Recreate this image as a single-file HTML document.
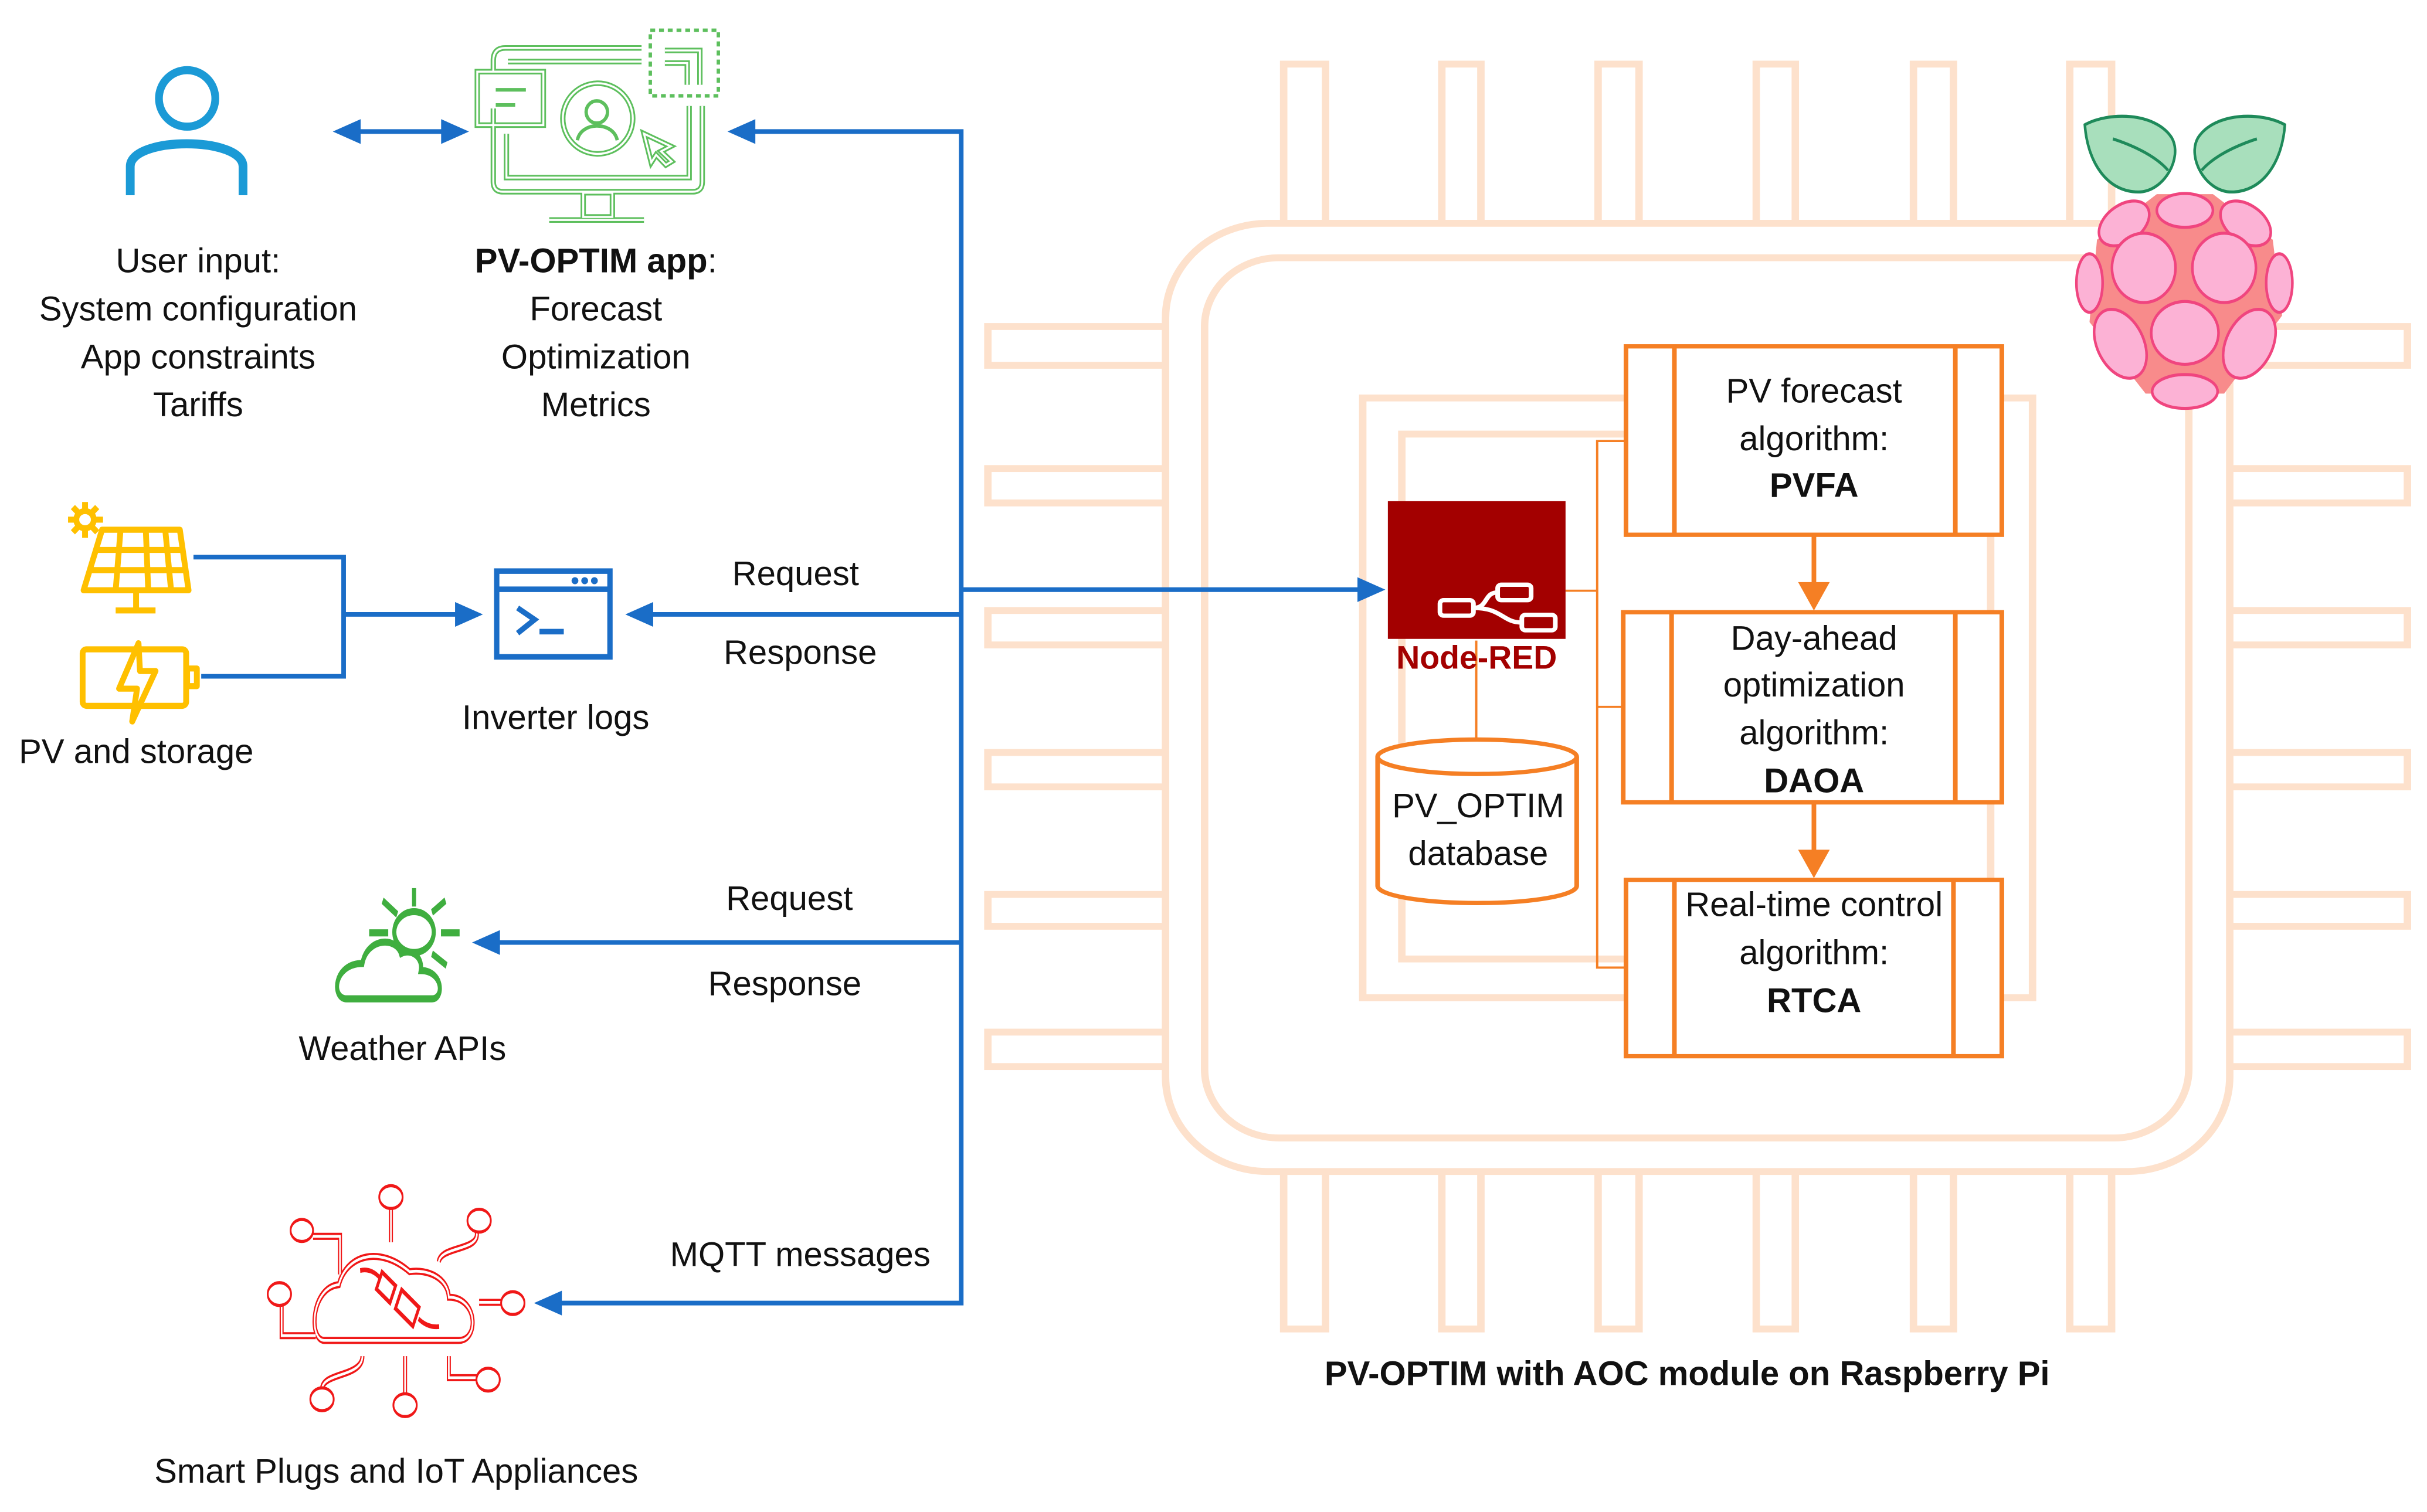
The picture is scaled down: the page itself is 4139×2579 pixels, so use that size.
<!DOCTYPE html>
<html><head><meta charset="utf-8"><style>
html,body{margin:0;padding:0;background:#fff;}
svg{display:block;}
text{font-family:"Liberation Sans",Arial,sans-serif;fill:#111;}
</style></head><body>
<svg width="4139" height="2579" viewBox="0 0 1568 977" xmlns="http://www.w3.org/2000/svg">
<rect x="0" y="0" width="1568" height="977" fill="#fff"/>

<!-- CHIP (zoom1 coords) -->
<g transform="translate(625,30.3) scale(0.601,0.556)" fill="#fff" stroke="#fde1cc" stroke-width="8">
  <g>
    <rect x="340" y="20" width="45" height="200"/><rect x="510" y="20" width="42" height="200"/>
    <rect x="678" y="20" width="44" height="200"/><rect x="848" y="20" width="42" height="200"/>
    <rect x="1017" y="20" width="43" height="200"/><rect x="1185" y="20" width="45" height="200"/>
    <rect x="340" y="1290" width="45" height="200"/><rect x="510" y="1290" width="42" height="200"/>
    <rect x="678" y="1290" width="44" height="200"/><rect x="848" y="1290" width="42" height="200"/>
    <rect x="1017" y="1290" width="43" height="200"/><rect x="1185" y="1290" width="45" height="200"/>
    <rect x="22" y="325" width="210" height="45"/><rect x="22" y="490" width="210" height="40"/>
    <rect x="22" y="655" width="210" height="40"/><rect x="22" y="820" width="210" height="40"/>
    <rect x="22" y="985" width="210" height="37"/><rect x="22" y="1145" width="210" height="40"/>
    <rect x="1340" y="325" width="208" height="45"/><rect x="1340" y="490" width="208" height="40"/>
    <rect x="1340" y="655" width="208" height="40"/><rect x="1340" y="820" width="208" height="40"/>
    <rect x="1340" y="985" width="208" height="37"/><rect x="1340" y="1145" width="208" height="40"/>
  </g>
  <rect x="213" y="205" width="1144" height="1102" rx="110"/>
  <rect x="255" y="245" width="1058" height="1023" rx="80"/>
  <rect x="425" y="408" width="720" height="697" fill="none"/>
  <rect x="467" y="450" width="633" height="610" fill="none"/>
</g>

<!-- Raspberry (zoom4 coords) -->
<g transform="translate(1325.8,56.8) scale(0.1208,0.1401)">
  <g fill="#a8dfbc" stroke="#1e8a5a" stroke-width="14">
    <path d="M175,170 C300,110 550,110 640,230 C700,320 600,480 460,480 C300,480 190,350 175,170 Z"/>
    <path d="M1245,170 C1120,110 870,110 780,230 C720,320 820,480 960,480 C1120,480 1230,350 1245,170 Z"/>
    <path d="M325,235 C450,270 560,320 620,380" fill="none"/>
    <path d="M1095,235 C970,270 860,320 800,380" fill="none"/>
  </g>
  <path d="M240,700 L560,490 L860,490 L1180,700 L1230,1050 L920,1410 L500,1410 L200,1080 Z" fill="#f88b8b"/>
  <g fill="#fcb2d5" stroke="#f0457f" stroke-width="14">
    <ellipse cx="710" cy="565" rx="150" ry="78"/>
    <ellipse cx="385" cy="625" rx="145" ry="88" transform="rotate(-28 385 625)"/>
    <ellipse cx="1035" cy="625" rx="145" ry="88" transform="rotate(28 1035 625)"/>
    <ellipse cx="200" cy="900" rx="70" ry="135"/>
    <ellipse cx="1215" cy="900" rx="70" ry="135"/>
    <ellipse cx="490" cy="830" rx="170" ry="160"/>
    <ellipse cx="920" cy="830" rx="170" ry="160"/>
    <ellipse cx="710" cy="1130" rx="180" ry="145"/>
    <ellipse cx="365" cy="1180" rx="120" ry="175" transform="rotate(-35 365 1180)"/>
    <ellipse cx="1055" cy="1180" rx="120" ry="175" transform="rotate(35 1055 1180)"/>
    <ellipse cx="710" cy="1400" rx="175" ry="78"/>
  </g>
</g>

<!-- orange blocks (zoom1 coords) -->
<g transform="translate(625,30.3) scale(0.601,0.556)" fill="none" stroke="#f57f24">
  <g stroke-width="5">
    <rect x="708" y="348" width="404" height="219" fill="#fff"/>
    <line x1="760" y1="348" x2="760" y2="567"/><line x1="1062" y1="348" x2="1062" y2="567"/>
    <rect x="705" y="657" width="407" height="221" fill="#fff"/>
    <line x1="757" y1="657" x2="757" y2="878"/><line x1="1062" y1="657" x2="1062" y2="878"/>
    <rect x="708" y="968" width="404" height="205" fill="#fff"/>
    <line x1="760" y1="968" x2="760" y2="1173"/><line x1="1060" y1="968" x2="1060" y2="1173"/>
    <line x1="910" y1="567" x2="910" y2="625"/><line x1="910" y1="878" x2="910" y2="935"/>
  </g>
  <polygon points="893,622 927,622 910,655" fill="#f57f24" stroke="none"/>
  <polygon points="893,933 927,933 910,966" fill="#f57f24" stroke="none"/>
  <g stroke-width="2.5">
    <path d="M708,458 H677 V1070 H708 M677,767 H705 M643,632 H677 M547,690 V805"/>
  </g>
  <path d="M441,825 V975 A107,20 0 0 0 655,975 V825" fill="#fff" stroke-width="5"/>
  <ellipse cx="548" cy="825" rx="107" ry="20" fill="#fff" stroke-width="5"/>
  <rect x="452" y="528" width="191" height="160" fill="#a30000" stroke="none"/>
  <g stroke="#fff" stroke-width="5">
    <rect x="508" y="643" width="36" height="18" rx="4"/>
    <rect x="570" y="625" width="36" height="18" rx="4"/>
    <rect x="596" y="660" width="36" height="18" rx="4"/>
    <path d="M544,652 C560,652 555,634 570,634 M544,652 C575,652 575,669 596,669"/>
  </g>
</g>

<!-- Blue connectors -->
<g stroke="#1a6dc7" stroke-width="3" fill="none">
  <path d="M482,85 H621 V842 H357"/>
  <path d="M621,381 H883"/>
  <path d="M621,397 H416"/>
  <path d="M621,609 H317"/>
  <path d="M227,85 H291"/>
  <path d="M125,360 H222 V437 H130 M222,397 H300"/>
</g>
<g fill="#1a6dc7">
  <polygon points="470,85 488,77 488,93"/>
  <polygon points="895,381 877,373 877,389"/>
  <polygon points="404,397 422,389 422,405"/>
  <polygon points="305,609 323,601 323,617"/>
  <polygon points="345,842 363,834 363,850"/>
  <polygon points="215,85 233,77 233,93"/>
  <polygon points="303,85 285,77 285,93"/>
  <polygon points="312,397 294,389 294,405"/>
</g>

<!-- zoom2 icons -->
<g transform="scale(0.314,0.326)" fill="none">
  <ellipse cx="385" cy="195" rx="58" ry="56" stroke="#1b9ad6" stroke-width="16"/>
  <path d="M268,387 V330 C268,270 500,270 500,330 V387" stroke="#1b9ad6" stroke-width="18"/>
  <g stroke="#5dbf5d" stroke-width="11">
    <path d="M1015,215 V360 Q1015,380 1035,380 H1425 Q1445,380 1445,360 V210"/>
    <path d="M1015,140 V120 Q1015,95 1040,95 H1320"/>
    <path d="M1042,265 V352 H1418 V210"/>
    <path d="M1045,122 H1320"/>
    <rect x="982" y="142" width="136" height="106"/>
    <ellipse cx="1230" cy="235" rx="72" ry="70"/>
    <path d="M1368,100 H1440 V168 M1368,125 H1414 V168"/>
    <rect x="1200" y="382" width="60" height="48"/>
    <path d="M1130,436 H1325"/>
    <path d="M1325,265 L1380,290 L1360,300 L1382,320 L1370,327 L1350,307 L1340,322 Z"/>
  </g>
  <g stroke="#fff" stroke-width="4">
    <path d="M1015,215 V360 Q1015,380 1035,380 H1425 Q1445,380 1445,360 V210"/>
    <path d="M1015,140 V120 Q1015,95 1040,95 H1320"/>
    <path d="M1042,265 V352 H1418 V210"/>
    <path d="M1045,122 H1320"/>
    <rect x="982" y="142" width="136" height="106"/>
    <ellipse cx="1230" cy="235" rx="72" ry="70"/>
    <path d="M1368,100 H1440 V168 M1368,125 H1414 V168"/>
    <rect x="1200" y="382" width="60" height="48"/>
    <path d="M1130,436 H1325"/>
    <path d="M1325,265 L1380,290 L1360,300 L1382,320 L1370,327 L1350,307 L1340,322 Z"/>
  </g>
  <g stroke="#5dbf5d" stroke-width="7">
    <path d="M1020,178 H1082 M1020,208 H1060"/>
    <ellipse cx="1228" cy="222" rx="22" ry="22"/>
    <path d="M1188,278 C1195,240 1262,240 1270,278"/>
    <rect x="1338" y="60" width="140" height="130" stroke-dasharray="10 8"/>
  </g>
  <g stroke="#ffc000" stroke-width="12" stroke-linejoin="round">
    <ellipse cx="175" cy="1030" rx="18" ry="17"/>
    <path d="M175,995 V1008 M175,1052 V1066 M140,1030 H153 M197,1030 H212 M150,1005 L160,1015 M190,1045 L200,1055 M200,1005 L190,1015 M150,1055 L160,1045"/>
    <polygon points="210,1050 370,1050 388,1170 172,1170"/>
    <path d="M196,1090 H378 M184,1130 H383 M248,1050 L238,1170 M300,1050 L305,1170 M340,1050 L352,1170"/>
    <path d="M280,1170 V1208 M238,1210 H320"/>
    <rect x="170" y="1287" width="213" height="112" rx="8"/>
    <rect x="385" y="1325" width="20" height="35"/>
    <polygon points="285,1275 245,1365 282,1365 272,1430 320,1330 288,1330" fill="#fff"/>
  </g>
  <g stroke="#1a6dc7" stroke-width="11">
    <rect x="1022" y="1132" width="233" height="170"/>
    <path d="M1022,1168 H1255"/>
    <path d="M1065,1205 L1100,1228 L1065,1255 M1110,1252 H1160"/>
  </g>
  <g fill="#1a6dc7"><circle cx="1183" cy="1151" r="7"/><circle cx="1203" cy="1151" r="7"/><circle cx="1223" cy="1151" r="7"/></g>
</g>

<!-- zoom3 icons -->
<g transform="translate(151.5,549) scale(0.145,0.2537)" fill="none">
  <g stroke="#3fae3f" stroke-width="18">
    <ellipse cx="800" cy="210" rx="88" ry="52"/>
    <path d="M800,98 V145 M660,130 L725,165 M940,130 L880,160 M600,212 H685 M920,212 H1003 M880,265 L945,295"/>
    <path d="M500,380 C430,380 440,290 570,290 C590,225 720,220 742,265 C790,250 840,275 830,308 C930,308 935,380 880,380 Z" fill="#fff"/>
  </g>
  <g stroke="#f01818" stroke-width="18">
    <path id="iot" d="M400,1250 C330,1250 340,1115 465,1108 C500,1030 650,1010 780,1075 C860,1068 950,1090 955,1140 C1085,1140 1090,1250 1000,1250 Z
      M470,1082 V985 H350 M910,1050 C920,1010 1080,1022 1080,980 V960 M697,1000 V912 M362,1238 H210 V1155 M1090,1153 H1190 M570,1290 C570,1345 390,1330 390,1375 M760,1290 V1390 M955,1290 V1345 H1080"/>
  </g>
  <g stroke="#fff" stroke-width="7"><use href="#iot"/></g>
  <g stroke="#f01818" stroke-width="8" fill="#fff">
    <ellipse cx="300" cy="970" rx="50" ry="28"/>
    <ellipse cx="697" cy="885" rx="52" ry="29"/>
    <ellipse cx="1090" cy="945" rx="52" ry="29"/>
    <ellipse cx="200" cy="1132" rx="52" ry="29"/>
    <ellipse cx="1240" cy="1155" rx="52" ry="29"/>
    <ellipse cx="390" cy="1400" rx="52" ry="29"/>
    <ellipse cx="760" cy="1415" rx="52" ry="29"/>
    <ellipse cx="1130" cy="1350" rx="52" ry="29"/>
  </g>
  <g stroke="#f01818" stroke-width="12">
    <path d="M560,1072 Q610,1065 650,1092"/>
    <rect x="640" y="1090" width="70" height="50" transform="rotate(30 675 1115)"/>
    <rect x="725" y="1140" width="90" height="55" transform="rotate(30 770 1167)"/>
    <path d="M820,1195 Q860,1218 912,1215"/>
  </g>
</g>

<!-- texts -->
<g font-size="22" text-anchor="middle">
  <text x="128" y="176">User input:</text>
  <text x="128" y="207">System configuration</text>
  <text x="128" y="238">App constraints</text>
  <text x="128" y="269">Tariffs</text>
  <text x="385" y="176"><tspan font-weight="bold">PV-OPTIM app</tspan>:</text>
  <text x="385" y="207">Forecast</text>
  <text x="385" y="238">Optimization</text>
  <text x="385" y="269">Metrics</text>
  <text x="88" y="493">PV and storage</text>
  <text x="359" y="471">Inverter logs</text>
  <text x="514" y="378">Request</text>
  <text x="517" y="429">Response</text>
  <text x="510" y="588">Request</text>
  <text x="507" y="643">Response</text>
  <text x="260" y="685">Weather APIs</text>
  <text x="517" y="818">MQTT messages</text>
  <text x="256" y="958">Smart Plugs and IoT Appliances</text>
  <text x="1090" y="895" font-weight="bold">PV-OPTIM with AOC module on Raspberry Pi</text>
  <text x="1172" y="260">PV forecast</text>
  <text x="1172" y="291">algorithm:</text>
  <text x="1172" y="321" font-weight="bold">PVFA</text>
  <text x="1172" y="420">Day-ahead</text>
  <text x="1172" y="450">optimization</text>
  <text x="1172" y="481">algorithm:</text>
  <text x="1172" y="512" font-weight="bold">DAOA</text>
  <text x="1172" y="592">Real-time control</text>
  <text x="1172" y="623">algorithm:</text>
  <text x="1172" y="654" font-weight="bold">RTCA</text>
  <text x="955" y="528">PV_OPTIM</text>
  <text x="955" y="559">database</text>
  <text x="954" y="432" font-family="'Liberation Serif',serif" font-weight="bold" style="fill:#a30000" font-size="21">Node-RED</text>
</g>
</svg>
</body></html>
